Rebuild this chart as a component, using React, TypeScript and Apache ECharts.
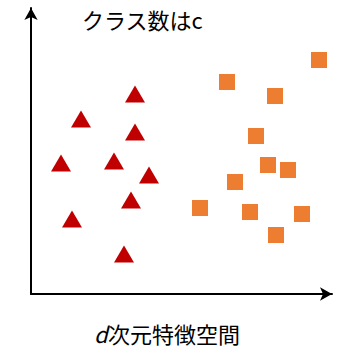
import React, { useEffect, useRef } from "react";
import * as echarts from "echarts";

const titleText = "クラス数はc";
const axisLabelItalic = "d";
const axisLabelRest = "次元特徴空間";

const triangleX = [104, 50, 104, 30, 83, 118, 100, 41, 93];
const triangleY = [200, 175, 162, 131, 133, 119, 94, 75, 40];

const squareX = [288, 196, 244, 225, 237, 257, 204, 169, 219, 271, 245];
const squareY = [234, 212, 198, 158, 129, 124, 112, 86, 82, 80, 59];

const FONT = "'Noto Sans CJK JP', 'Noto Sans', sans-serif";

export default function App() {
  const ref = useRef<HTMLDivElement>(null);
  useEffect(() => {
    if (!ref.current) return;
    const chart = echarts.init(ref.current, undefined, { renderer: "svg" });
    const tri = triangleX.map((x, i) => [x, triangleY[i]]);
    const sq = squareX.map((x, i) => [x, squareY[i]]);
    chart.setOption({
      animation: false,
      backgroundColor: "#ffffff",
      grid: { left: 31, right: 6, top: 8, bottom: 54 },
      xAxis: {
        type: "value",
        min: 0,
        max: 301,
        splitLine: { show: false },
        axisTick: { show: false },
        axisLabel: { show: false },
        axisLine: {
          show: true,
          onZero: false,
          symbol: ["none", "arrow"],
          symbolSize: [10, 12],
          lineStyle: { color: "#000", width: 2 },
        },
      },
      yAxis: {
        type: "value",
        min: 0,
        max: 286,
        splitLine: { show: false },
        axisTick: { show: false },
        axisLabel: { show: false },
        axisLine: {
          show: true,
          onZero: false,
          symbol: ["none", "arrow"],
          symbolSize: [10, 12],
          lineStyle: { color: "#000", width: 2 },
        },
      },
      graphic: [
        {
          type: "text",
          x: 82,
          y: 19,
          style: {
            text: titleText,
            fontFamily: FONT,
            fontSize: 22,
            fill: "#000",
            align: "left",
            verticalAlign: "middle",
          },
        },
        {
          type: "text",
          x: 94,
          y: 333,
          style: {
            text: axisLabelItalic,
            fontFamily: FONT,
            fontSize: 22,
            fontStyle: "italic",
            fill: "#000",
            align: "left",
            verticalAlign: "middle",
          },
        },
        {
          type: "text",
          x: 108,
          y: 333,
          style: {
            text: axisLabelRest,
            fontFamily: FONT,
            fontSize: 22,
            fill: "#000",
            align: "left",
            verticalAlign: "middle",
          },
        },
      ],
      series: [
        {
          type: "scatter",
          data: tri,
          symbol: "triangle",
          symbolSize: [20, 17],
          itemStyle: { color: "#C00000", opacity: 1 },
        },
        {
          type: "scatter",
          data: sq,
          symbol: "rect",
          symbolSize: [16, 16],
          itemStyle: { color: "#ED7D31", opacity: 1 },
        },
      ],
    });
    return () => chart.dispose();
  }, []);
  return (
    <div
      ref={ref}
      style={{ position: "absolute", left: 0, top: 0, width: 338, height: 348 }}
    />
  );
}
